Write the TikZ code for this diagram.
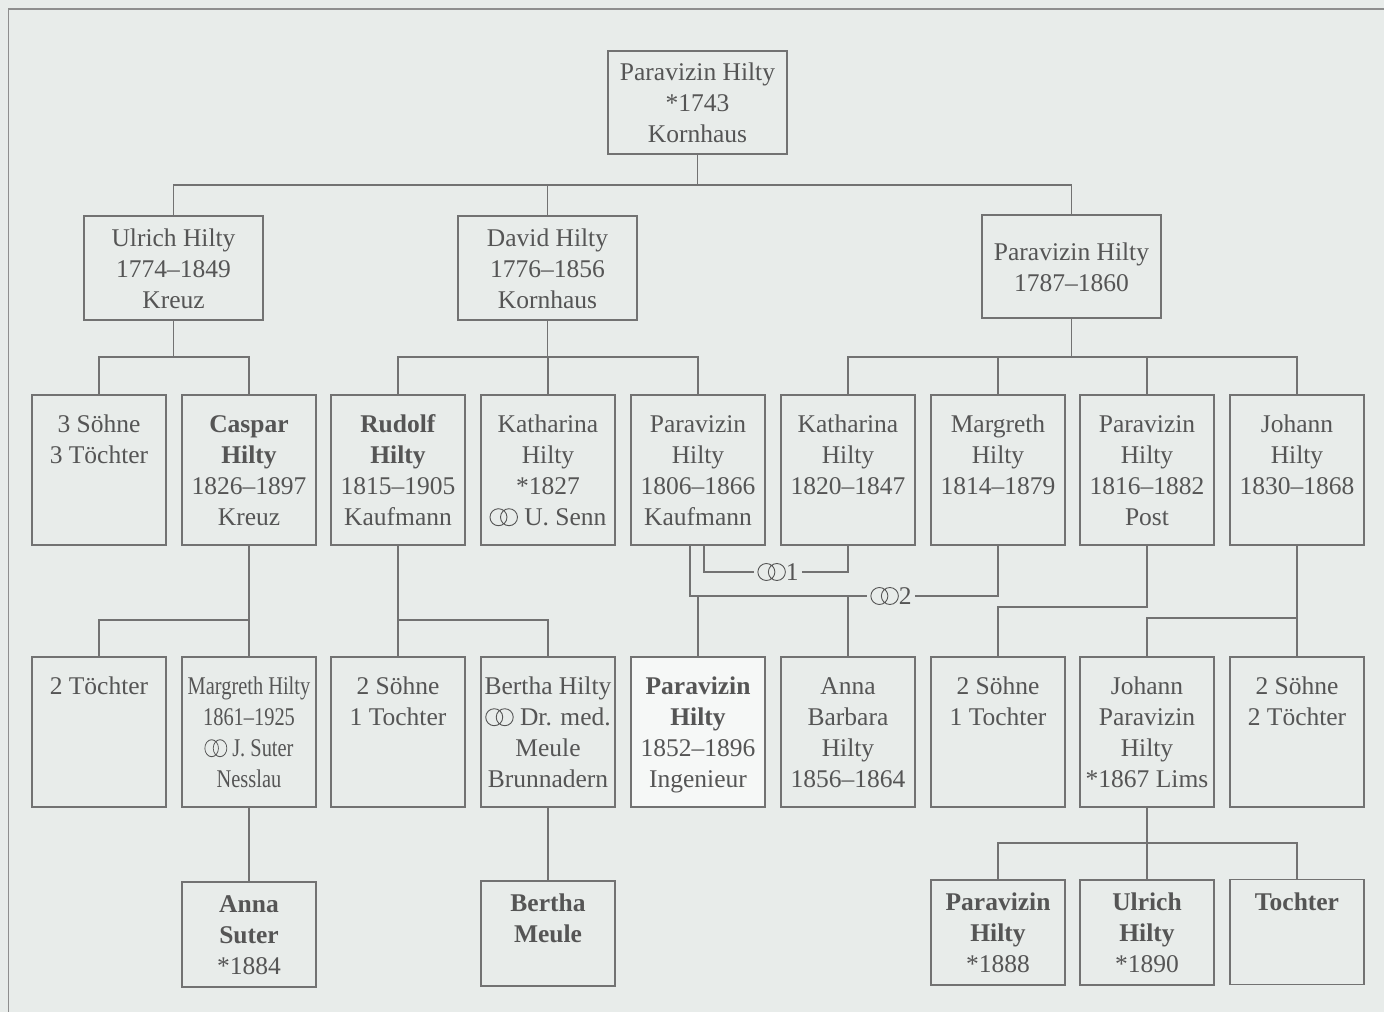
\documentclass[tikz,border=0pt]{standalone}
\usepackage{fontspec}
\setmainfont{Liberation Serif}
\usepackage{graphicx}
\definecolor{bgc}{HTML}{E8ECEA}
\definecolor{textc}{HTML}{555555}
\definecolor{linec}{HTML}{727272}
\definecolor{framec}{HTML}{8E8E8E}
\definecolor{lightc}{HTML}{F6F8F7}
\newcommand\boxfont{\fontsize{25.5}{31}\selectfont}
\newcommand\fst{\rule{0pt}{27.7pt}}
\newcommand\rings{\tikz[baseline=0pt]{\draw[line width=0.9pt,draw=textc] (9pt,8.5pt) circle[radius=8.5pt] (19.5pt,8.5pt) circle[radius=8.5pt];}}
\newcommand\cond[1]{\scalebox{0.8}[1]{#1}}
\begin{document}
\begin{tikzpicture}[x=1pt,y=-1pt,
  box/.style={draw=linec, line width=1.4pt, fill=bgc, minimum width=134pt, minimum height=150pt,
    inner sep=0pt, align=center, font=\boxfont, text=textc},
  bigbox/.style={box, minimum width=179pt, minimum height=103pt},
  lowbox/.style={box, minimum height=105pt},
  conn/.style={draw=linec, line width=1.3pt},
  mlabel/.style={inner sep=3pt, font=\boxfont, text=textc}]
\useasboundingbox (0,0) rectangle (1384,1012);
\fill[bgc] (0,0) rectangle (1384,1012);
\draw[framec, line width=1.3pt] (1384,9) -- (8.5,9) -- (8.5,1012);

% generation 0 and 1
\node[bigbox] (top) at (697.5,102.5) {\fst Paravizin Hilty\\\strut *1743\\\strut Kornhaus};
\node[bigbox, minimum height=104pt] (ulrich) at (173.5,268) {\fst Ulrich Hilty\\\strut 1774–1849\\\strut Kreuz};
\node[bigbox, minimum height=104pt] (david) at (547.5,268) {\fst David Hilty\\\strut 1776–1856\\\strut Kornhaus};
\node[bigbox] (par1787) at (1071.5,266.5) {\fst Paravizin Hilty\\\strut 1787–1860};

% generation 2
\node[box] (s3) at (99,470) {\fst 3 Söhne\\\strut 3 Töchter\\\strut\\\strut};
\node[box] (caspar) at (249,470) {\fst\textbf{Caspar}\\\strut\textbf{Hilty}\\\strut 1826–1897\\\strut Kreuz};
\node[box] (rudolf) at (398,470) {\fst\textbf{Rudolf}\\\strut\textbf{Hilty}\\\strut 1815–1905\\\strut Kaufmann};
\node[box] (kath1827) at (548,470) {\fst Katharina\\\strut Hilty\\\strut *1827\\\strut\rings\ U. Senn};
\node[box] (p1806) at (698,470) {\fst Paravizin\\\strut Hilty\\\strut 1806–1866\\\strut Kaufmann};
\node[box] (kath1820) at (848,470) {\fst Katharina\\\strut Hilty\\\strut 1820–1847\\\strut};
\node[box] (marg1814) at (998,470) {\fst Margreth\\\strut Hilty\\\strut 1814–1879\\\strut};
\node[box] (p1816) at (1147,470) {\fst Paravizin\\\strut Hilty\\\strut 1816–1882\\\strut Post};
\node[box] (johann1830) at (1297,470) {\fst Johann\\\strut Hilty\\\strut 1830–1868\\\strut};

% generation 3
\node[box] (t2) at (99,732) {\fst 2 Töchter\\\strut\\\strut\\\strut};
\node[box] (margh) at (249,732) {\fst\cond{Margreth Hilty}\\\strut\cond{1861–1925}\\\strut\cond{\rings\ J. Suter}\\\strut\cond{Nesslau}};
\node[box] (s2t1a) at (398,732) {\fst 2 Söhne\\\strut 1 Tochter\\\strut\\\strut};
\node[box] (bertha) at (548,732) {\fst Bertha Hilty\\\strut\rings\ Dr. med.\\\strut Meule\\\strut Brunnadern};
\node[box, fill=lightc] (p1852) at (698,732) {\fst\textbf{Paravizin}\\\strut\textbf{Hilty}\\\strut 1852–1896\\\strut Ingenieur};
\node[box] (annab) at (848,732) {\fst Anna\\\strut Barbara\\\strut Hilty\\\strut 1856–1864};
\node[box] (s2t1b) at (998,732) {\fst 2 Söhne\\\strut 1 Tochter\\\strut\\\strut};
\node[box] (johannp) at (1147,732) {\fst Johann\\\strut Paravizin\\\strut Hilty\\\strut *1867 Lims};
\node[box] (s2t2) at (1297,732) {\fst 2 Söhne\\\strut 2 Töchter\\\strut\\\strut};

% generation 4
\node[lowbox] (anna) at (249,934.5) {\fst\textbf{Anna}\\\strut\textbf{Suter}\\\strut *1884};
\node[lowbox] (berthaM) at (548,933.5) {\fst\textbf{Bertha}\\\strut\textbf{Meule}\\\strut};
\node[lowbox] (paravH) at (998,932.5) {\fst\textbf{Paravizin}\\\strut\textbf{Hilty}\\\strut *1888};
\node[lowbox] (ulrichH) at (1147,932.5) {\fst\textbf{Ulrich}\\\strut\textbf{Hilty}\\\strut *1890};
\node[lowbox] (tochter) at (1297,932) {\fst\textbf{Tochter}\\\strut\\\strut};

% marriage labels
\node[mlabel] (m1) at (778,572) {\rings1};
\node[mlabel] (m2) at (891,596) {\rings2};

% bar levels
\coordinate (y0) at (0,185);
\coordinate (y1) at (0,357);
\coordinate (y2a) at (0,620);
\coordinate (y2c) at (0,607);
\coordinate (y2d) at (0,618);
\coordinate (y3) at (0,843);

% connectors generation 0 -> 1
\draw[conn] (top.south) -- (top.south |- y0);
\draw[conn] (ulrich.north) |- (par1787.north |- y0) -- (par1787.north);
\draw[conn] (david.north) -- (david.north |- y0);

% generation 1 -> 2
\draw[conn] (ulrich.south) -- (ulrich.south |- y1);
\draw[conn] (s3.north) |- (caspar.north |- y1) -- (caspar.north);
\draw[conn] (david.south) -- (david.south |- y1);
\draw[conn] (rudolf.north) |- (p1806.north |- y1) -- (p1806.north);
\draw[conn] (kath1827.north) -- (kath1827.north |- y1);
\draw[conn] (par1787.south) -- (par1787.south |- y1);
\draw[conn] (kath1820.north) |- (johann1830.north |- y1) -- (johann1830.north);
\draw[conn] (marg1814.north) -- (marg1814.north |- y1);
\draw[conn] (p1816.north) -- (p1816.north |- y1);

% generation 2 -> 3
\draw[conn] (caspar.south) -- (margh.north);
\draw[conn] (t2.north) |- (caspar.south |- y2a);
\draw[conn] (rudolf.south) -- (s2t1a.north);
\draw[conn] (rudolf.south |- y2a) -| (bertha.north);
\draw[conn] ([xshift=6pt]p1806.south) |- (m1.west);
\draw[conn] (m1.east) -| (kath1820.south);
\draw[conn] ([xshift=-8pt]p1806.south) |- (m2.west);
\draw[conn] (m2.east) -| (marg1814.south);
\draw[conn] (p1852.north) -- (p1852.north |- m2);
\draw[conn] (annab.north) -- (annab.north |- m2);
\draw[conn] (p1816.south) |- (s2t1b.north |- y2c) -- (s2t1b.north);
\draw[conn] (johann1830.south) -- (s2t2.north);
\draw[conn] (johann1830.south |- y2d) -| (johannp.north);

% generation 3 -> 4
\draw[conn] (margh.south) -- (anna.north);
\draw[conn] (bertha.south) -- (berthaM.north);
\draw[conn] (johannp.south) -- (ulrichH.north);
\draw[conn] (paravH.north) |- (tochter.north |- y3) -- (tochter.north);
\end{tikzpicture}
\end{document}
